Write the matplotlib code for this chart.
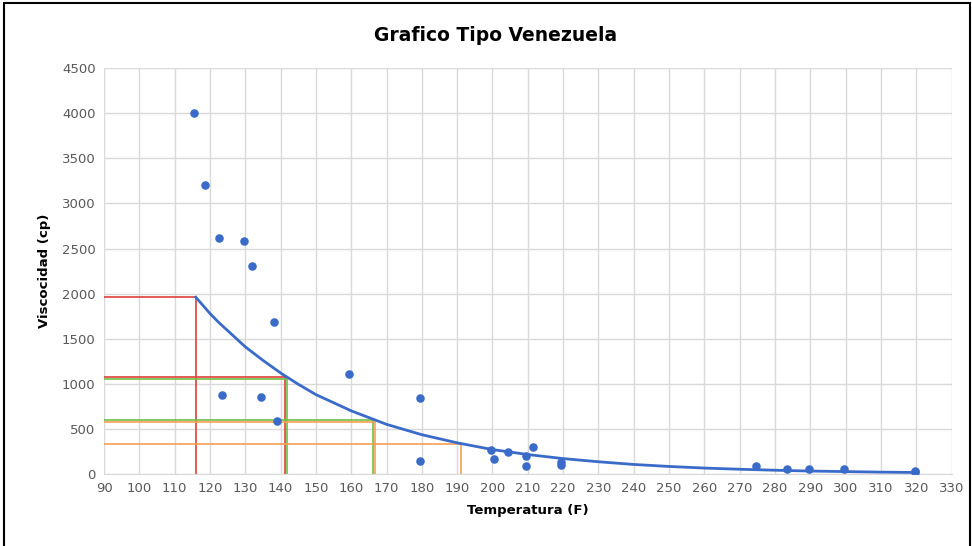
import matplotlib
matplotlib.use("Agg")
import matplotlib.pyplot as plt
from matplotlib.patches import Rectangle

# Datos medidos (puntos dispersos)
temp_pts = [115.5, 118.5, 122.5, 129.5, 132, 138, 123.5, 134.5, 139, 159.5, 179.5, 179.5,
            199.5, 200.5, 204.5, 209.5, 209.5, 211.5, 219.5, 219.5, 274.5, 283.5, 289.5,
            299.5, 319.5, 319.5]
visc_pts = [4000, 3200, 2620, 2580, 2310, 1690, 880, 850, 590, 1110, 840, 140,
            270, 170, 240, 200, 90, 300, 130, 100, 85, 50, 60,
            50, 30, 20]

# Curva de tendencia
temp_curva = [116, 118, 120, 122.5, 125, 127.5, 130, 135, 140, 145, 150, 155, 160, 170,
              180, 190, 200, 210, 220, 230, 240, 250, 260, 270, 280, 290, 300, 310, 320]
visc_curva = [1960, 1870, 1780, 1680, 1590, 1500, 1410, 1260, 1120, 995, 880, 790, 700,
              550, 435, 345, 270, 215, 170, 135, 105, 83, 65, 52, 41, 32, 26, 20, 16]

# Lineas de lectura (temperatura, viscosidad)
rojo = [(116, 1960), (141.2, 1080)]
verde = [(141.8, 1055), (166.2, 600)]
naranja = [(166.8, 578), (191, 330)]

AZUL = "#3A6BC9"

fig = plt.figure(figsize=(9.72, 5.46), dpi=100)
ax = fig.add_axes([0.107, 0.132, 0.872, 0.743])

for t, v in rojo:
    ax.plot([90, t, t], [v, v, 0], color="#E0403A", lw=1.2, zorder=2)
for t, v in verde:
    ax.plot([90, t, t], [v, v, 0], color="#70BF45", lw=1.2, zorder=2)
for t, v in naranja:
    ax.plot([90, t, t], [v, v, 0], color="#F5A052", lw=1.2, zorder=2)

ax.plot(temp_curva, visc_curva, color=AZUL, lw=2, zorder=3)
ax.scatter(temp_pts, visc_pts, s=38, color=AZUL, zorder=4, linewidths=0)

ax.set_xlim(90, 330)
ax.set_ylim(0, 4500)
ax.set_xticks(range(90, 331, 10))
ax.set_yticks(range(0, 4501, 500))
ax.grid(True, color="#D9D9D9", lw=1)
ax.set_axisbelow(True)
for s in ["top", "right", "left"]:
    ax.spines[s].set_visible(False)
ax.spines["bottom"].set_color("#D9D9D9")
ax.tick_params(length=0, labelsize=9.5, colors="#595959", pad=6)

ax.set_xlabel("Temperatura (F)", fontsize=9.5, fontweight="bold", labelpad=6)
ax.set_ylabel("Viscocidad (cp)", fontsize=9.5, fontweight="bold", labelpad=8)
fig.text(0.51, 0.935, "Grafico Tipo Venezuela", ha="center", va="center",
         fontsize=13.5, fontweight="bold")

fig.patches.append(Rectangle((0.004, -0.01), 0.994, 1.004, transform=fig.transFigure,
                             fill=False, edgecolor="black", lw=1.5))

fig.savefig("out.png", dpi=100)
